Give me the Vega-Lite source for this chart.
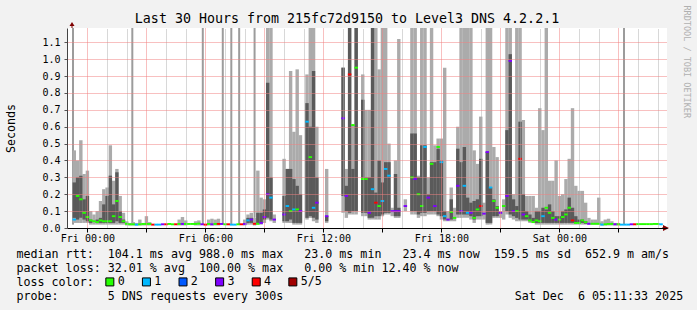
{
  "$schema": "https://vega.github.io/schema/vega-lite/v6.json",
  "width": 600,
  "height": 200,
  "autosize": {"type": "none"},
  "padding": {"left": 67, "top": 28, "right": 30, "bottom": 82},
  "background": "#f2f2f2",
  "title": {"text": "Last 30 Hours from 215fc72d9150 to Level3 DNS 4.2.2.1", "font": "DejaVu Sans Mono", "fontSize": 13.3, "fontWeight": "normal", "color": "#000000", "anchor": "middle", "frame": "group", "dx": -20, "dy": 35, "baseline": "alphabetic", "offset": 4},
  "config": {"view": {"stroke": null, "fill": "#ffffff"}, "font": "DejaVu Sans Mono"},
  "datasets": {
    "spikes": [
      {"t": "2025-12-04T23:16", "lo": 0.02, "hi": 1.3},
      {"t": "2025-12-05T02:17", "lo": 0.02, "hi": 1.3},
      {"t": "2025-12-05T05:52", "lo": 0.02, "hi": 1.3},
      {"t": "2025-12-05T06:53", "lo": 0.02, "hi": 1.3},
      {"t": "2025-12-05T07:19", "lo": 0.02, "hi": 1.3},
      {"t": "2025-12-05T07:43", "lo": 0.02, "hi": 1.3},
      {"t": "2025-12-05T08:30", "lo": 0.06, "hi": 1.3},
      {"t": "2025-12-06T03:17", "lo": 0.02, "hi": 1.3}
    ],
    "smoke": [
      {"t": "2025-12-04T23:20", "lo": 0.03, "hi": 0.46, "dlo": 0.06, "dhi": 0.27, "med": 0.05, "loss": "1"},
      {"t": "2025-12-04T23:30", "lo": 0.03, "hi": 0.4, "dlo": 0.05, "dhi": 0.3, "med": 0.19, "loss": "0"},
      {"t": "2025-12-04T23:40", "lo": 0.03, "hi": 0.52, "dlo": 0.06, "dhi": 0.31, "med": 0.17, "loss": "0"},
      {"t": "2025-12-04T23:50", "lo": 0.03, "hi": 0.32, "dlo": 0.05, "dhi": 0.17, "med": 0.09, "loss": "0"},
      {"t": "2025-12-05T00:00", "lo": 0.03, "hi": 0.34, "dlo": 0.04, "dhi": 0.19, "med": 0.065, "loss": "0"},
      {"t": "2025-12-05T00:10", "lo": 0.02, "hi": 0.1, "dlo": 0.03, "dhi": 0.05, "med": 0.045, "loss": "0"},
      {"t": "2025-12-05T00:20", "lo": 0.02, "hi": 0.08, "med": 0.04, "loss": "0"},
      {"t": "2025-12-05T00:30", "lo": 0.02, "hi": 0.1, "dlo": 0.03, "dhi": 0.05, "med": 0.035, "loss": "0"},
      {"t": "2025-12-05T00:40", "lo": 0.02, "hi": 0.16, "dlo": 0.03, "dhi": 0.06, "med": 0.045, "loss": "0"},
      {"t": "2025-12-05T00:50", "lo": 0.02, "hi": 0.23, "dlo": 0.03, "dhi": 0.14, "med": 0.04, "loss": "0"},
      {"t": "2025-12-05T01:00", "lo": 0.02, "hi": 0.24, "dlo": 0.03, "dhi": 0.19, "med": 0.04, "loss": "0"},
      {"t": "2025-12-05T01:10", "lo": 0.02, "hi": 0.49, "dlo": 0.03, "dhi": 0.31, "med": 0.04, "loss": "0"},
      {"t": "2025-12-05T01:20", "lo": 0.02, "hi": 0.28, "dlo": 0.03, "dhi": 0.14, "med": 0.07, "loss": "0"},
      {"t": "2025-12-05T01:30", "lo": 0.02, "hi": 0.35, "dlo": 0.04, "dhi": 0.33, "med": 0.16, "loss": "0"},
      {"t": "2025-12-05T01:40", "lo": 0.02, "hi": 0.19, "dlo": 0.03, "dhi": 0.1, "med": 0.065, "loss": "0"},
      {"t": "2025-12-05T01:50", "lo": 0.02, "hi": 0.09, "dlo": 0.03, "dhi": 0.05, "med": 0.04, "loss": "0"},
      {"t": "2025-12-05T02:00", "lo": 0.015, "hi": 0.04, "med": 0.025, "loss": "0"},
      {"t": "2025-12-05T02:10", "lo": 0.015, "hi": 0.03, "med": 0.022, "loss": "0"},
      {"t": "2025-12-05T02:20", "lo": 0.015, "hi": 0.035, "med": 0.022, "loss": "0"},
      {"t": "2025-12-05T02:30", "lo": 0.015, "hi": 0.03, "med": 0.02, "loss": "1"},
      {"t": "2025-12-05T02:40", "lo": 0.015, "hi": 0.05, "med": 0.022, "loss": "0"},
      {"t": "2025-12-05T02:50", "lo": 0.015, "hi": 0.03, "med": 0.024, "loss": "0"},
      {"t": "2025-12-05T03:00", "lo": 0.015, "hi": 0.07, "med": 0.024, "loss": "0"},
      {"t": "2025-12-05T03:10", "lo": 0.015, "hi": 0.035, "med": 0.024, "loss": "0"},
      {"t": "2025-12-05T03:20", "med": 0.02, "loss": "4"},
      {"t": "2025-12-05T03:30", "med": 0.02, "loss": "1"},
      {"t": "2025-12-05T03:40", "med": 0.02, "loss": "1"},
      {"t": "2025-12-05T03:50", "med": 0.022, "loss": "3"},
      {"t": "2025-12-05T04:00", "med": 0.022, "loss": "4"},
      {"t": "2025-12-05T04:10", "med": 0.024, "loss": "0"},
      {"t": "2025-12-05T04:20", "med": 0.022, "loss": "0"},
      {"t": "2025-12-05T04:30", "med": 0.022, "loss": "4"},
      {"t": "2025-12-05T04:40", "lo": 0.015, "hi": 0.05, "med": 0.024, "loss": "0"},
      {"t": "2025-12-05T04:50", "lo": 0.015, "hi": 0.065, "med": 0.024, "loss": "3"},
      {"t": "2025-12-05T05:00", "lo": 0.015, "hi": 0.045, "med": 0.024, "loss": "0"},
      {"t": "2025-12-05T05:10", "med": 0.024, "loss": "0"},
      {"t": "2025-12-05T05:20", "med": 0.024, "loss": "0"},
      {"t": "2025-12-05T05:30", "lo": 0.015, "hi": 0.04, "med": 0.024, "loss": "0"},
      {"t": "2025-12-05T05:40", "lo": 0.015, "hi": 0.045, "med": 0.026, "loss": "0"},
      {"t": "2025-12-05T05:50", "med": 0.022, "loss": "3"},
      {"t": "2025-12-05T06:00", "med": 0.02, "loss": "4"},
      {"t": "2025-12-05T06:10", "lo": 0.015, "hi": 0.05, "med": 0.024, "loss": "0"},
      {"t": "2025-12-05T06:20", "lo": 0.015, "hi": 0.055, "med": 0.022, "loss": "3"},
      {"t": "2025-12-05T06:30", "lo": 0.015, "hi": 0.05, "med": 0.024, "loss": "0"},
      {"t": "2025-12-05T06:40", "lo": 0.015, "hi": 0.055, "med": 0.024, "loss": "4"},
      {"t": "2025-12-05T06:50", "med": 0.024, "loss": "3"},
      {"t": "2025-12-05T07:00", "med": 0.022, "loss": "0"},
      {"t": "2025-12-05T07:10", "med": 0.022, "loss": "4"},
      {"t": "2025-12-05T07:20", "med": 0.02, "loss": "1"},
      {"t": "2025-12-05T07:30", "med": 0.02, "loss": "1"},
      {"t": "2025-12-05T07:40", "med": 0.022, "loss": "0"},
      {"t": "2025-12-05T07:50", "med": 0.022, "loss": "4"},
      {"t": "2025-12-05T08:00", "lo": 0.015, "hi": 0.05, "med": 0.024, "loss": "3"},
      {"t": "2025-12-05T08:10", "lo": 0.02, "hi": 0.08, "dlo": 0.03, "dhi": 0.06, "med": 0.045, "loss": "1"},
      {"t": "2025-12-05T08:20", "lo": 0.02, "hi": 0.09, "dlo": 0.03, "dhi": 0.06, "med": 0.05, "loss": "3"},
      {"t": "2025-12-05T08:30", "lo": 0.015, "hi": 0.06, "med": 0.025, "loss": "4"},
      {"t": "2025-12-05T08:40", "lo": 0.02, "hi": 0.34, "dlo": 0.03, "dhi": 0.09, "med": 0.025, "loss": "0"},
      {"t": "2025-12-05T08:50", "lo": 0.02, "hi": 0.18, "dlo": 0.03, "dhi": 0.09, "med": 0.03, "loss": "3"},
      {"t": "2025-12-05T09:00", "lo": 0.03, "hi": 0.17, "dlo": 0.05, "dhi": 0.11, "med": 0.065, "loss": "3"},
      {"t": "2025-12-05T09:10", "lo": 0.05, "hi": 1.3, "dlo": 0.06, "dhi": 0.86, "med": 0.2, "loss": "3"},
      {"t": "2025-12-05T09:20", "lo": 0.04, "hi": 1.3, "dlo": 0.05, "dhi": 0.3, "med": 0.18, "loss": "1"},
      {"t": "2025-12-05T09:30", "lo": 0.03, "hi": 0.08, "med": 0.05, "loss": "3"},
      {"t": "2025-12-05T10:00", "lo": 0.03, "hi": 0.41, "dlo": 0.04, "dhi": 0.19, "med": 0.08, "loss": "3"},
      {"t": "2025-12-05T10:10", "lo": 0.03, "hi": 0.35, "dlo": 0.04, "dhi": 0.35, "med": 0.13, "loss": "1"},
      {"t": "2025-12-05T10:20", "lo": 0.03, "hi": 0.93, "dlo": 0.05, "dhi": 0.35, "med": 0.1, "loss": "0"},
      {"t": "2025-12-05T10:30", "lo": 0.02, "hi": 0.57, "dlo": 0.03, "dhi": 0.29, "med": 0.11, "loss": "1"},
      {"t": "2025-12-05T10:40", "lo": 0.02, "hi": 0.94, "dlo": 0.03, "dhi": 0.25, "med": 0.11, "loss": "0"},
      {"t": "2025-12-05T10:50", "lo": 0.02, "hi": 0.55, "dlo": 0.03, "dhi": 0.2, "med": 0.1, "loss": "3"},
      {"t": "2025-12-05T11:10", "lo": 0.05, "hi": 0.91, "dlo": 0.06, "dhi": 0.74, "med": 0.63, "loss": "1"},
      {"t": "2025-12-05T11:20", "lo": 0.06, "hi": 1.3, "dlo": 0.07, "dhi": 0.6, "med": 0.42, "loss": "0"},
      {"t": "2025-12-05T11:30", "lo": 0.04, "hi": 1.3, "dlo": 0.06, "dhi": 0.93, "med": 0.12, "loss": "1"},
      {"t": "2025-12-05T11:40", "lo": 0.03, "hi": 0.6, "dlo": 0.05, "dhi": 0.3, "med": 0.15, "loss": "3"},
      {"t": "2025-12-05T12:10", "lo": 0.03, "hi": 0.35, "dlo": 0.04, "dhi": 0.07, "med": 0.07, "loss": "3"},
      {"t": "2025-12-05T13:00", "lo": 0.09, "hi": 0.95, "dlo": 0.19, "dhi": 0.95, "med": 0.65, "loss": "3"},
      {"t": "2025-12-05T13:10", "lo": 0.06, "hi": 0.35, "dlo": 0.1, "dhi": 0.25, "med": 0.19, "loss": "3"},
      {"t": "2025-12-05T13:20", "lo": 0.08, "hi": 1.3, "dlo": 0.09, "dhi": 1.3, "med": 0.91, "loss": "4"},
      {"t": "2025-12-05T13:30", "lo": 0.08, "hi": 0.61, "dlo": 0.1, "dhi": 0.35, "med": 0.61, "loss": "0"},
      {"t": "2025-12-05T13:40", "lo": 0.08, "hi": 1.3, "dlo": 0.1, "dhi": 1.3, "med": 0.95, "loss": "0"},
      {"t": "2025-12-05T14:00", "lo": 0.07, "hi": 0.91, "dlo": 0.09, "dhi": 0.76, "med": 0.29, "loss": "0"},
      {"t": "2025-12-05T14:10", "lo": 0.07, "hi": 0.7, "dlo": 0.09, "dhi": 0.3, "med": 0.29, "loss": "0"},
      {"t": "2025-12-05T14:20", "lo": 0.05, "hi": 0.7, "dlo": 0.06, "dhi": 0.3, "med": 0.09, "loss": "3"},
      {"t": "2025-12-05T14:30", "lo": 0.05, "hi": 1.3, "dlo": 0.06, "dhi": 1.3, "med": 0.23, "loss": "1"},
      {"t": "2025-12-05T14:40", "lo": 0.05, "hi": 1.3, "dlo": 0.07, "dhi": 0.21, "med": 0.15, "loss": "4"},
      {"t": "2025-12-05T14:50", "lo": 0.05, "hi": 0.94, "dlo": 0.07, "dhi": 0.4, "med": 0.13, "loss": "0"},
      {"t": "2025-12-05T15:00", "lo": 0.07, "hi": 1.3, "dlo": 0.08, "dhi": 0.27, "med": 0.16, "loss": "1"},
      {"t": "2025-12-05T15:10", "lo": 0.08, "hi": 1.3, "dlo": 0.09, "dhi": 0.39, "med": 0.35, "loss": "1"},
      {"t": "2025-12-05T15:20", "lo": 0.08, "hi": 0.5, "dlo": 0.09, "dhi": 0.39, "med": 0.31, "loss": "1"},
      {"t": "2025-12-05T15:30", "lo": 0.07, "hi": 0.12, "med": 0.1, "loss": "3"},
      {"t": "2025-12-05T15:40", "lo": 0.06, "hi": 0.4, "dlo": 0.07, "dhi": 0.32, "med": 0.1, "loss": "3"},
      {"t": "2025-12-05T15:50", "lo": 0.06, "hi": 1.12, "dlo": 0.07, "dhi": 0.12, "med": 0.1, "loss": "3"},
      {"t": "2025-12-05T16:10", "lo": 0.1, "hi": 0.17, "med": 0.13, "loss": "3"},
      {"t": "2025-12-05T16:30", "lo": 0.08, "hi": 1.3, "dlo": 0.1, "dhi": 0.56, "med": 0.3, "loss": "0"},
      {"t": "2025-12-05T16:40", "lo": 0.08, "hi": 1.3, "dlo": 0.1, "dhi": 0.56, "med": 0.29, "loss": "3"},
      {"t": "2025-12-05T16:50", "lo": 0.06, "hi": 0.31, "dlo": 0.08, "dhi": 0.3, "med": 0.2, "loss": "0"},
      {"t": "2025-12-05T17:00", "lo": 0.07, "hi": 1.3, "dlo": 0.09, "dhi": 0.49, "med": 0.13, "loss": "0"},
      {"t": "2025-12-05T17:10", "lo": 0.07, "hi": 1.3, "dlo": 0.09, "dhi": 0.49, "med": 0.48, "loss": "1"},
      {"t": "2025-12-05T17:20", "lo": 0.08, "hi": 0.3, "dlo": 0.1, "dhi": 0.2, "med": 0.18, "loss": "3"},
      {"t": "2025-12-05T17:30", "lo": 0.08, "hi": 1.3, "dlo": 0.1, "dhi": 0.39, "med": 0.38, "loss": "0"},
      {"t": "2025-12-05T17:40", "lo": 0.08, "hi": 0.49, "dlo": 0.1, "dhi": 0.39, "med": 0.13, "loss": "3"},
      {"t": "2025-12-05T17:50", "lo": 0.07, "hi": 0.53, "dlo": 0.08, "dhi": 0.47, "med": 0.48, "loss": "0"},
      {"t": "2025-12-05T18:00", "lo": 0.05, "hi": 0.53, "dlo": 0.07, "dhi": 0.4, "med": 0.39, "loss": "1"},
      {"t": "2025-12-05T18:10", "lo": 0.04, "hi": 0.95, "dlo": 0.05, "dhi": 0.1, "med": 0.07, "loss": "1"},
      {"t": "2025-12-05T18:20", "lo": 0.04, "hi": 0.1, "med": 0.05, "loss": "3"},
      {"t": "2025-12-05T18:30", "lo": 0.04, "hi": 0.24, "dlo": 0.05, "dhi": 0.17, "med": 0.095, "loss": "0"},
      {"t": "2025-12-05T18:40", "lo": 0.04, "hi": 0.12, "med": 0.06, "loss": "0"},
      {"t": "2025-12-05T18:50", "lo": 0.06, "hi": 0.6, "dlo": 0.08, "dhi": 0.47, "med": 0.25, "loss": "3"},
      {"t": "2025-12-05T19:00", "lo": 0.06, "hi": 1.3, "dlo": 0.08, "dhi": 0.39, "med": 0.1, "loss": "3"},
      {"t": "2025-12-05T19:10", "lo": 0.06, "hi": 1.3, "dlo": 0.08, "dhi": 0.48, "med": 0.25, "loss": "1"},
      {"t": "2025-12-05T19:20", "lo": 0.06, "hi": 1.3, "dlo": 0.08, "dhi": 0.18, "med": 0.09, "loss": "1"},
      {"t": "2025-12-05T19:30", "lo": 0.05, "hi": 1.3, "dlo": 0.07, "dhi": 0.15, "med": 0.09, "loss": "3"},
      {"t": "2025-12-05T19:40", "lo": 0.03, "hi": 0.46, "dlo": 0.05, "dhi": 0.16, "med": 0.06, "loss": "0"},
      {"t": "2025-12-05T19:50", "lo": 0.05, "hi": 0.38, "dlo": 0.07, "dhi": 0.17, "med": 0.11, "loss": "0"},
      {"t": "2025-12-05T20:00", "lo": 0.05, "hi": 0.66, "dlo": 0.07, "dhi": 0.41, "med": 0.13, "loss": "4"},
      {"t": "2025-12-05T20:10", "lo": 0.05, "hi": 0.15, "med": 0.085, "loss": "3"},
      {"t": "2025-12-05T20:20", "lo": 0.02, "hi": 1.3, "dlo": 0.03, "dhi": 0.45, "med": 0.45, "loss": "3"},
      {"t": "2025-12-05T20:30", "lo": 0.02, "hi": 1.3, "dlo": 0.03, "dhi": 0.24, "med": 0.24, "loss": "1"},
      {"t": "2025-12-05T20:40", "lo": 0.06, "hi": 0.48, "dlo": 0.07, "dhi": 0.17, "med": 0.16, "loss": "0"},
      {"t": "2025-12-05T20:50", "lo": 0.06, "hi": 0.42, "dlo": 0.07, "dhi": 0.13, "med": 0.12, "loss": "0"},
      {"t": "2025-12-05T21:00", "lo": 0.06, "hi": 0.1, "med": 0.09, "loss": "3"},
      {"t": "2025-12-05T21:10", "lo": 0.05, "hi": 0.17, "med": 0.13, "loss": "0"},
      {"t": "2025-12-05T21:20", "lo": 0.08, "hi": 1.3, "dlo": 0.1, "dhi": 0.58, "med": 0.19, "loss": "3"},
      {"t": "2025-12-05T21:30", "lo": 0.06, "hi": 1.3, "dlo": 0.08, "dhi": 1.03, "med": 0.99, "loss": "3"},
      {"t": "2025-12-05T21:40", "lo": 0.05, "hi": 0.2, "dlo": 0.07, "dhi": 0.17, "med": 0.1, "loss": "3"},
      {"t": "2025-12-05T21:50", "lo": 0.04, "hi": 1.3, "dlo": 0.06, "dhi": 0.13, "med": 0.1, "loss": "0"},
      {"t": "2025-12-05T22:00", "lo": 0.04, "hi": 1.3, "dlo": 0.05, "dhi": 0.63, "med": 0.41, "loss": "4"},
      {"t": "2025-12-05T22:10", "lo": 0.04, "hi": 0.64, "dlo": 0.05, "dhi": 0.2, "med": 0.08, "loss": "3"},
      {"t": "2025-12-05T22:20", "lo": 0.04, "hi": 0.19, "dlo": 0.05, "dhi": 0.1, "med": 0.07, "loss": "0"},
      {"t": "2025-12-05T22:30", "lo": 0.03, "hi": 0.19, "dlo": 0.04, "dhi": 0.08, "med": 0.045, "loss": "0"},
      {"t": "2025-12-05T22:40", "lo": 0.03, "hi": 0.19, "dlo": 0.04, "dhi": 0.06, "med": 0.035, "loss": "0"},
      {"t": "2025-12-05T22:50", "lo": 0.02, "hi": 0.12, "dlo": 0.03, "dhi": 0.1, "med": 0.045, "loss": "0"},
      {"t": "2025-12-05T23:00", "lo": 0.02, "hi": 0.71, "dlo": 0.03, "dhi": 0.1, "med": 0.04, "loss": "0"},
      {"t": "2025-12-05T23:10", "lo": 0.02, "hi": 0.58, "dlo": 0.03, "dhi": 0.12, "med": 0.07, "loss": "1"},
      {"t": "2025-12-05T23:20", "lo": 0.02, "hi": 1.3, "dlo": 0.03, "dhi": 0.11, "med": 0.12, "loss": "0"},
      {"t": "2025-12-05T23:30", "lo": 0.02, "hi": 0.28, "dlo": 0.03, "dhi": 0.14, "med": 0.09, "loss": "0"},
      {"t": "2025-12-05T23:40", "lo": 0.02, "hi": 0.28, "dlo": 0.03, "dhi": 0.1, "med": 0.06, "loss": "0"},
      {"t": "2025-12-05T23:50", "lo": 0.02, "hi": 0.4, "dlo": 0.03, "dhi": 0.07, "med": 0.05, "loss": "3"},
      {"t": "2025-12-06T00:00", "lo": 0.02, "hi": 0.19, "dlo": 0.03, "dhi": 0.07, "med": 0.05, "loss": "0"},
      {"t": "2025-12-06T00:10", "lo": 0.02, "hi": 0.2, "dlo": 0.03, "dhi": 0.1, "med": 0.065, "loss": "0"},
      {"t": "2025-12-06T00:20", "lo": 0.02, "hi": 0.29, "dlo": 0.03, "dhi": 0.11, "med": 0.08, "loss": "0"},
      {"t": "2025-12-06T00:30", "lo": 0.02, "hi": 0.41, "dlo": 0.03, "dhi": 0.18, "med": 0.12, "loss": "0"},
      {"t": "2025-12-06T00:40", "lo": 0.02, "hi": 0.71, "dlo": 0.03, "dhi": 0.12, "med": 0.045, "loss": "4"},
      {"t": "2025-12-06T00:50", "lo": 0.02, "hi": 0.25, "dlo": 0.03, "dhi": 0.07, "med": 0.03, "loss": "0"},
      {"t": "2025-12-06T01:00", "lo": 0.02, "hi": 0.22, "dlo": 0.03, "dhi": 0.05, "med": 0.03, "loss": "0"},
      {"t": "2025-12-06T01:10", "lo": 0.02, "hi": 0.22, "dlo": 0.03, "dhi": 0.05, "med": 0.045, "loss": "0"},
      {"t": "2025-12-06T01:20", "lo": 0.02, "hi": 0.15, "dlo": 0.025, "dhi": 0.04, "med": 0.035, "loss": "0"},
      {"t": "2025-12-06T01:30", "lo": 0.02, "hi": 0.06, "med": 0.025, "loss": "3"},
      {"t": "2025-12-06T01:40", "lo": 0.02, "hi": 0.05, "med": 0.025, "loss": "0"},
      {"t": "2025-12-06T01:50", "lo": 0.02, "hi": 0.05, "med": 0.025, "loss": "0"},
      {"t": "2025-12-06T02:00", "lo": 0.02, "hi": 0.18, "med": 0.025, "loss": "0"},
      {"t": "2025-12-06T02:10", "lo": 0.015, "hi": 0.04, "med": 0.02, "loss": "1"},
      {"t": "2025-12-06T02:20", "lo": 0.015, "hi": 0.05, "med": 0.022, "loss": "0"},
      {"t": "2025-12-06T02:30", "lo": 0.015, "hi": 0.055, "med": 0.024, "loss": "0"},
      {"t": "2025-12-06T02:40", "lo": 0.015, "hi": 0.04, "med": 0.024, "loss": "0"},
      {"t": "2025-12-06T02:50", "lo": 0.015, "hi": 0.03, "med": 0.022, "loss": "3"},
      {"t": "2025-12-06T03:00", "lo": 0.015, "hi": 0.03, "med": 0.022, "loss": "0"},
      {"t": "2025-12-06T03:10", "med": 0.02, "loss": "1"},
      {"t": "2025-12-06T03:20", "med": 0.02, "loss": "1"},
      {"t": "2025-12-06T03:30", "med": 0.02, "loss": "1"},
      {"t": "2025-12-06T03:40", "med": 0.022, "loss": "3"},
      {"t": "2025-12-06T03:50", "med": 0.022, "loss": "4"},
      {"t": "2025-12-06T04:00", "med": 0.023, "loss": "0"},
      {"t": "2025-12-06T04:10", "med": 0.023, "loss": "0"},
      {"t": "2025-12-06T04:20", "med": 0.023, "loss": "0"},
      {"t": "2025-12-06T04:30", "med": 0.023, "loss": "0"},
      {"t": "2025-12-06T04:40", "med": 0.023, "loss": "0"},
      {"t": "2025-12-06T04:50", "med": 0.024, "loss": "0"},
      {"t": "2025-12-06T05:00", "med": 0.024, "loss": "0"},
      {"t": "2025-12-06T05:10", "med": 0.022, "loss": "1"}
    ]
  },
  "resolve": {"axis": {"y": "independent", "x": "independent"}},
  "layer": [
    {
      "data": {"name": "spikes"},
      "mark": {"type": "rule", "color": "#9c9c9c", "strokeWidth": 2},
      "encoding": {
        "x": {"field": "t", "type": "temporal", "axis": null, "scale": {"domain": [{"year": 2025, "month": 12, "date": 4, "hours": 23, "minutes": 13}, {"year": 2025, "month": 12, "date": 6, "hours": 5, "minutes": 13}]}},
        "y": {"field": "lo", "type": "quantitative", "axis": null, "scale": {"domain": [0, 1.185], "nice": false, "clamp": true}},
        "y2": {"field": "hi"}
      }
    },
    {
      "data": {"name": "smoke"},
      "mark": {"type": "bar", "color": "#ababab", "width": 3.4},
      "encoding": {
        "x": {
          "field": "t", "type": "temporal",
          "axis": {
            "orient": "bottom",
            "values": [
              {"year": 2025, "month": 12, "date": 5, "hours": 0},
              {"year": 2025, "month": 12, "date": 5, "hours": 3},
              {"year": 2025, "month": 12, "date": 5, "hours": 6},
              {"year": 2025, "month": 12, "date": 5, "hours": 9},
              {"year": 2025, "month": 12, "date": 5, "hours": 12},
              {"year": 2025, "month": 12, "date": 5, "hours": 15},
              {"year": 2025, "month": 12, "date": 5, "hours": 18},
              {"year": 2025, "month": 12, "date": 5, "hours": 21},
              {"year": 2025, "month": 12, "date": 6, "hours": 0},
              {"year": 2025, "month": 12, "date": 6, "hours": 3}
            ],
            "labelExpr": "hours(datum.value) % 6 === 0 ? timeFormat(datum.value, '%a %H:%M') : ''",
            "labelOverlap": false,
            "labelFont": "DejaVu Sans Mono", "labelFontSize": 10, "labelColor": "#000000", "labelPadding": 1, "labelFlush": false,
            "tickSize": 4, "tickColor": "#000000",
            "domainColor": "#000000", "domainWidth": 1,
            "grid": true, "gridDash": [1, 1], "gridColor": "#f08080",
            "zindex": 1,
            "title": [
              "median rtt:\u00a0\u00a0104.1 ms avg\u00a0988.0 ms max\u00a0\u00a0\u00a023.0 ms min\u00a0\u00a0\u00a023.4 ms now\u00a0\u00a0159.5 ms sd\u00a0\u00a0652.9 m am/s",
              "packet loss:\u00a032.01 % avg\u00a0\u00a0100.00 % max\u00a0\u00a0\u00a00.00 % min\u00a012.40 % now",
              "loss color:",
              "probe:\u00a0\u00a0\u00a0\u00a0\u00a0\u00a0\u00a05 DNS requests every 300s\u00a0\u00a0\u00a0\u00a0\u00a0\u00a0\u00a0\u00a0\u00a0\u00a0\u00a0\u00a0\u00a0\u00a0\u00a0\u00a0\u00a0\u00a0\u00a0\u00a0\u00a0\u00a0\u00a0\u00a0\u00a0\u00a0\u00a0\u00a0\u00a0\u00a0\u00a0\u00a0\u00a0Sat Dec\u00a0\u00a06 05:11:33 2025"
            ],
            "titleFont": "DejaVu Sans Mono", "titleFontSize": 11.66, "titleFontWeight": "normal", "titleColor": "#000000",
            "titleAnchor": "start", "titleAlign": "left", "titleBaseline": "top",
            "titleX": -51, "titleY": 20.3, "titleLineHeight": 14
          }
        },
        "y": {
          "field": "lo", "type": "quantitative",
          "axis": {
            "orient": "left",
            "values": [0, 0.1, 0.2, 0.3, 0.4, 0.5, 0.6, 0.7, 0.8, 0.9, 1.0, 1.1],
            "format": ".1f",
            "labelFont": "DejaVu Sans Mono", "labelFontSize": 10, "labelColor": "#000000", "labelPadding": 4,
            "tickSize": 3, "tickColor": "#555555",
            "domainColor": "#444444",
            "grid": true, "gridDash": [1, 1], "gridColor": "#f08080",
            "zindex": 1,
            "title": "Seconds",
            "titleFont": "DejaVu Sans Mono", "titleFontSize": 11.66, "titleFontWeight": "normal", "titleColor": "#000000",
            "titleAngle": -90, "titleAlign": "center", "titleBaseline": "alphabetic",
            "titleX": -53, "titleY": 100
          }
        },
        "y2": {"field": "hi"}
      }
    },
    {
      "data": {"name": "smoke"},
      "mark": {"type": "bar", "color": "#5a5a5a", "width": 3.4},
      "encoding": {
        "x": {
          "field": "t", "type": "temporal",
          "axis": {
            "orient": "top", "labels": false, "ticks": false, "domain": false, "title": null,
            "grid": true, "gridDash": [1, 1], "gridColor": "#b0b0b0", "zindex": 1,
            "values": [
              {"year": 2025, "month": 12, "date": 5, "hours": 1},
              {"year": 2025, "month": 12, "date": 5, "hours": 2},
              {"year": 2025, "month": 12, "date": 5, "hours": 4},
              {"year": 2025, "month": 12, "date": 5, "hours": 5},
              {"year": 2025, "month": 12, "date": 5, "hours": 7},
              {"year": 2025, "month": 12, "date": 5, "hours": 8},
              {"year": 2025, "month": 12, "date": 5, "hours": 10},
              {"year": 2025, "month": 12, "date": 5, "hours": 11},
              {"year": 2025, "month": 12, "date": 5, "hours": 13},
              {"year": 2025, "month": 12, "date": 5, "hours": 14},
              {"year": 2025, "month": 12, "date": 5, "hours": 16},
              {"year": 2025, "month": 12, "date": 5, "hours": 17},
              {"year": 2025, "month": 12, "date": 5, "hours": 19},
              {"year": 2025, "month": 12, "date": 5, "hours": 20},
              {"year": 2025, "month": 12, "date": 5, "hours": 22},
              {"year": 2025, "month": 12, "date": 5, "hours": 23},
              {"year": 2025, "month": 12, "date": 6, "hours": 1},
              {"year": 2025, "month": 12, "date": 6, "hours": 2},
              {"year": 2025, "month": 12, "date": 6, "hours": 4},
              {"year": 2025, "month": 12, "date": 6, "hours": 5}
            ]
          }
        },
        "y": {"field": "dlo", "type": "quantitative", "axis": null},
        "y2": {"field": "dhi"}
      }
    },
    {
      "data": {"name": "smoke"},
      "mark": {"type": "point", "shape": "M-1,-0.55H1V0.55H-1Z", "filled": true, "size": 12.25, "opacity": 1},
      "encoding": {
        "x": {"field": "t", "type": "temporal", "axis": null},
        "y": {"field": "med", "type": "quantitative", "axis": null},
        "color": {
          "field": "loss", "type": "nominal",
          "scale": {"domain": ["0", "1", "2", "3", "4", "5/5"], "range": ["#26ff00", "#00b8ff", "#0059ff", "#7e00ff", "#ff0000", "#a10000"]},
          "legend": {
            "orient": "none", "legendX": 37, "legendY": 248, "direction": "horizontal", "title": null,
            "symbolType": "square", "symbolSize": 64, "symbolStrokeColor": "#000000", "symbolStrokeWidth": 1, "symbolOpacity": 1,
            "labelFont": "DejaVu Sans Mono", "labelFontSize": 11.66, "labelColor": "#000000", "labelOffset": 2,
            "columnPadding": 14.6, "padding": 0
          }
        }
      }
    },
    {
      "data": {"values": [{}]},
      "mark": {"type": "point", "shape": "M-1.25,-1L0,-3L1.25,-1L0.25,-1L0.25,0L-0.25,0L-0.25,-1Z", "filled": true, "size": 16, "color": "#7f0000", "opacity": 1},
      "encoding": {
        "x": {"datum": {"year": 2025, "month": 12, "date": 4, "hours": 23, "minutes": 13}, "type": "temporal", "axis": null},
        "y": {
          "datum": 1.185, "type": "quantitative",
          "axis": {
            "orient": "right", "labels": false, "ticks": false, "domain": false, "grid": false,
            "title": "RRDTOOL / TOBI OETIKER",
            "titleFont": "DejaVu Sans Mono", "titleFontSize": 8.5, "titleFontWeight": "normal", "titleColor": "#b0b0b0",
            "titleAngle": 90, "titleAlign": "left", "titleBaseline": "alphabetic",
            "titleX": 16, "titleY": -23
          }
        }
      }
    },
    {
      "data": {"values": [{}]},
      "mark": {"type": "point", "shape": "M0.5,-1.5L3.5,0L0.5,1.5L0.5,0.25L0,0.25L0,-0.25L0.5,-0.25Z", "filled": true, "size": 16, "color": "#7f0000", "opacity": 1},
      "encoding": {
        "x": {"datum": {"year": 2025, "month": 12, "date": 6, "hours": 5, "minutes": 13}, "type": "temporal", "axis": null},
        "y": {"datum": 0, "type": "quantitative", "axis": null}
      }
    }
  ]
}
